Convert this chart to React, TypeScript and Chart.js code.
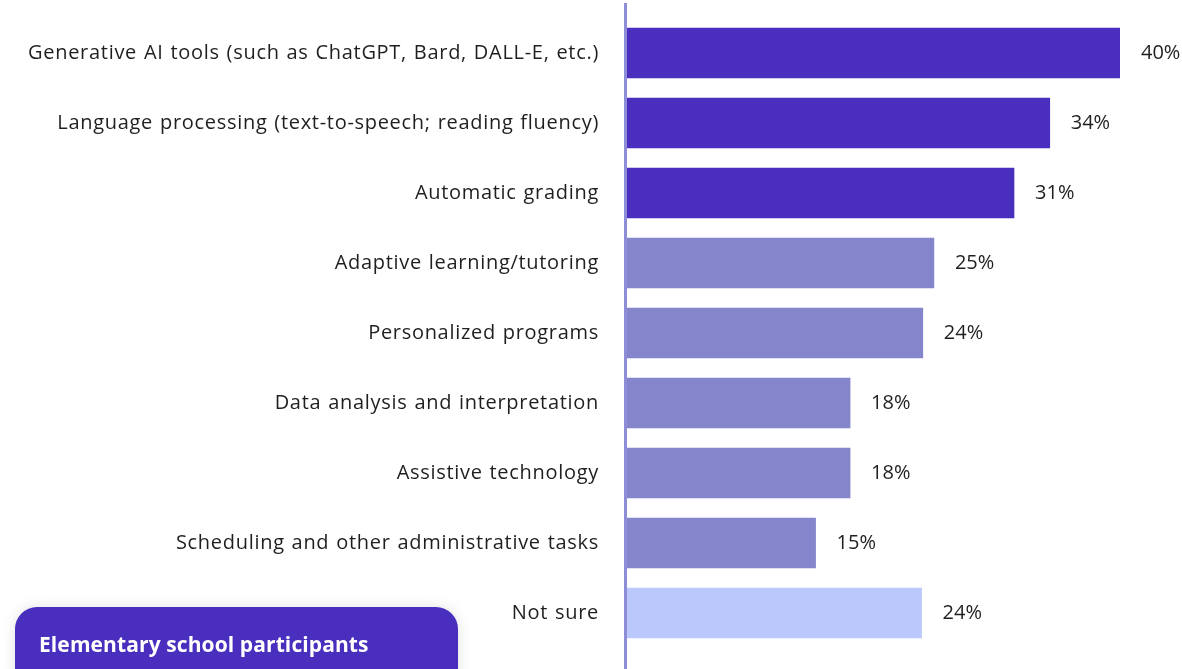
import React, { useEffect, useRef } from "react";
import { Chart, registerables } from "chart.js";

Chart.register(...registerables);

const categories: string[] = [
  "Generative AI tools (such as ChatGPT, Bard, DALL-E, etc.)",
  "Language processing (text-to-speech; reading fluency)",
  "Automatic grading",
  "Adaptive learning/tutoring",
  "Personalized programs",
  "Data analysis and interpretation",
  "Assistive technology",
  "Scheduling and other administrative tasks",
  "Not sure",
];

const values: number[] = [40, 34.3, 31.4, 24.9, 24, 18.1, 18.1, 15.3, 23.9];

const valueLabels: string[] = ["40%", "34%", "31%", "25%", "24%", "18%", "18%", "15%", "24%"];

const barColors: string[] = [
  "#4A2FBE",
  "#4A2FBE",
  "#4A2FBE",
  "#8585CB",
  "#8585CB",
  "#8585CB",
  "#8585CB",
  "#8585CB",
  "#BBC8FC",
];

const boxTitle = "Elementary school participants";

const FONT = "'Open Sans', sans-serif";

const spacingPlugin = {
  id: "letterSpacing",
  beforeDraw(chart: any) {
    chart.ctx.letterSpacing = "0.7px";
    chart.ctx.wordSpacing = "1px";
  },
};

const axisLinePlugin = {
  id: "axisLine",
  afterDatasetsDraw(chart: any) {
    const { ctx, chartArea } = chart;
    ctx.save();
    ctx.fillStyle = "#8E8ED8";
    ctx.fillRect(chartArea.left - 3, 3, 3, chart.height - 3);
    ctx.restore();
  },
};

const valueLabelPlugin = {
  id: "valueLabels",
  afterDatasetsDraw(chart: any) {
    const { ctx } = chart;
    const meta = chart.getDatasetMeta(0);
    ctx.save();
    ctx.letterSpacing = "0px";
    ctx.wordSpacing = "0px";
    ctx.font = `20px ${FONT}`;
    ctx.fillStyle = "#1f1f1f";
    ctx.textAlign = "left";
    ctx.textBaseline = "middle";
    meta.data.forEach((bar: any, i: number) => {
      ctx.fillText(valueLabels[i], bar.x + 21, bar.y);
    });
    ctx.restore();
  },
};

export default function App() {
  const canvasRef = useRef<HTMLCanvasElement | null>(null);

  useEffect(() => {
    if (!canvasRef.current) return;
    const chart = new Chart(canvasRef.current, {
      type: "bar",
      data: {
        labels: categories,
        datasets: [
          {
            data: values,
            backgroundColor: barColors,
            borderWidth: 0,
            barThickness: 50,
          },
        ],
      },
      options: {
        indexAxis: "y",
        animation: false,
        responsive: true,
        maintainAspectRatio: false,
        layout: { padding: { top: 18, bottom: 21, left: 0, right: 62 } },
        plugins: {
          legend: { display: false },
          tooltip: { enabled: false },
        },
        scales: {
          x: {
            display: false,
            min: 0,
            max: 40,
          },
          y: {
            border: { display: false },
            grid: { display: false, drawTicks: false },
            ticks: {
              padding: 28,
              color: "#1f1f1f",
              font: { family: FONT, size: 20 },
            },
            afterFit(scale: any) {
              scale.width = 627;
              scale.paddingTop = 0;
              scale.paddingBottom = 0;
            },
          },
        },
      },
      plugins: [spacingPlugin, axisLinePlugin, valueLabelPlugin],
    });
    return () => chart.destroy();
  }, []);

  return (
    <div
      style={{
        position: "fixed",
        left: 0,
        top: 0,
        width: 1182,
        height: 669,
        overflow: "hidden",
        background: "#ffffff",
      }}
    >
      <canvas ref={canvasRef} style={{ position: "absolute", left: 0, top: 0 }} />
      <div
        style={{
          position: "absolute",
          left: 15,
          top: 607,
          width: 443,
          height: 90,
          borderRadius: 22,
          background: "#4A2FBE",
          boxShadow: "0 0 14px rgba(0,0,0,0.12)",
          boxSizing: "border-box",
          padding: "24px 0 0 24px",
          color: "#ffffff",
          fontFamily: FONT,
          fontWeight: 700,
          fontSize: 21,
          lineHeight: "26px",
          letterSpacing: "0.1px",
        }}
      >
        {boxTitle}
      </div>
    </div>
  );
}
